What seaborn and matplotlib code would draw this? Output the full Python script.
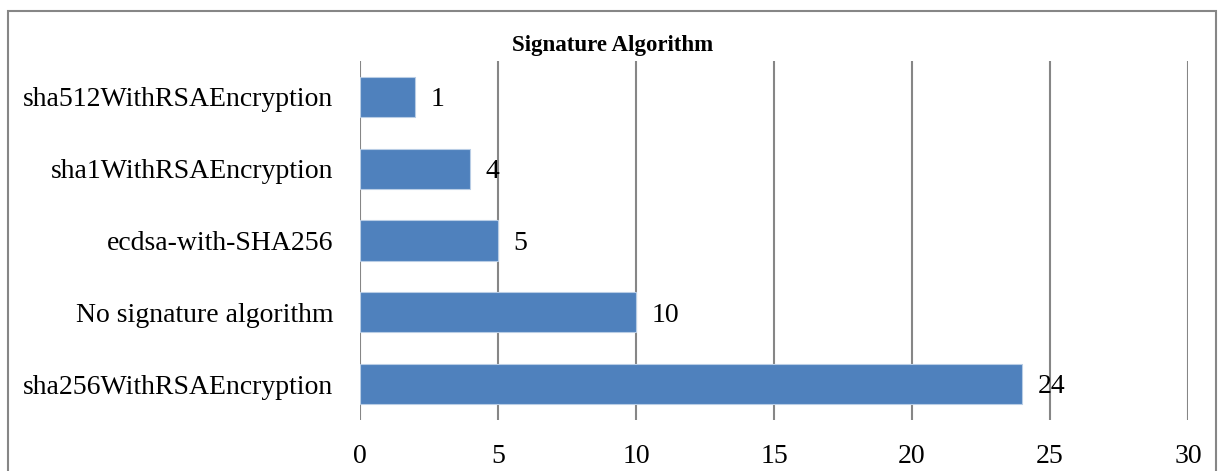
import matplotlib
matplotlib.use("Agg")
import matplotlib.pyplot as plt
import seaborn as sns
import pandas as pd
from matplotlib.patches import Rectangle

# datos del grafico (de arriba hacia abajo)
algoritmos = ["sha512WithRSAEncryption", "sha1WithRSAEncryption", "ecdsa-with-SHA256",
              "No signature algorithm", "sha256WithRSAEncryption"]
longitud_barra = [2, 4, 5, 10, 24]
etiquetas = ["1", "4", "5", "10", "24"]
ticks_x = [0, 5, 10, 15, 20, 25, 30]

df = pd.DataFrame({"algoritmo": algoritmos, "valor": longitud_barra})

sns.set_style("white")
plt.rcParams["font.family"] = ["Liberation Serif", "DejaVu Serif"]

fig = plt.figure(figsize=(12.18, 4.71), dpi=100)
ax = fig.add_axes([360 / 1218, 1 - 420 / 471, (1188 - 360) / 1218, (420 - 61) / 471])

sns.barplot(data=df, y="algoritmo", x="valor", orient="h", color="#4F81BD",
            saturation=1, width=0.56, edgecolor="#B9CDE5", linewidth=0.8, ax=ax)

# etiquetas de datos
for i, (v, txt) in enumerate(zip(longitud_barra, etiquetas)):
    ax.annotate(txt, (v, i), xytext=(11, -2), textcoords="offset points",
                va="center", ha="left", fontsize=20, color="black")

ax.set_xlim(0, 30)
ax.set_ylim(4.5, -0.5)
ax.set_xticks(ticks_x)
ax.grid(axis="x", color="#868686", linewidth=1.5)
ax.set_axisbelow(True)
for s in ax.spines.values():
    s.set_visible(False)
ax.tick_params(axis="both", length=0, labelsize=20, colors="black")
ax.tick_params(axis="x", pad=17)
ax.tick_params(axis="y", pad=19)
ax.set_xlabel("")
ax.set_ylabel("")

fig.text(613 / 1218, 1 - 46 / 471, "Signature Algorithm", ha="center", va="center",
         fontsize=16.5, fontweight="bold", color="black")

# marco del grafico
fig.patches.append(Rectangle((8 / 1218, -0.05), (1216 - 8) / 1218, 1.05 - 11 / 471,
                             transform=fig.transFigure, fill=False,
                             edgecolor="#868686", linewidth=1.5))

fig.savefig("out.png", dpi=100)
